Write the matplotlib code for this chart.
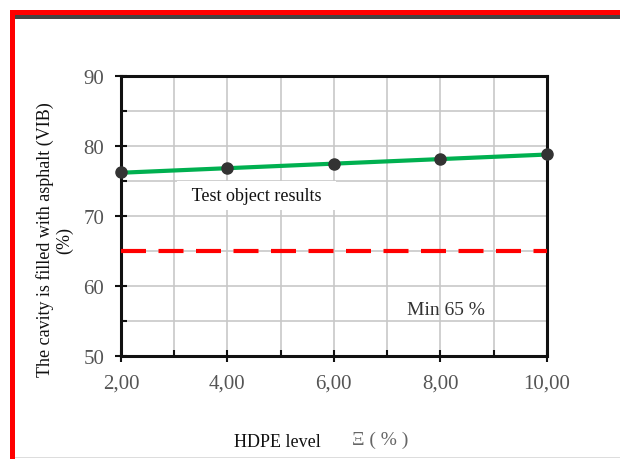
import numpy as np
import matplotlib
matplotlib.use("Agg")
import matplotlib.pyplot as plt
from matplotlib.patches import Rectangle
from matplotlib.ticker import MultipleLocator, FixedLocator

plt.rcParams['font.family'] = ['Liberation Serif', 'DejaVu Serif']

hdpe = [2, 4, 6, 8, 10]
vfb = [76.2, 76.8, 77.4, 78.1, 78.8]
min_limit = 65
x_ticks = [2, 4, 6, 8, 10]
x_labels = ["2,00", "4,00", "6,00", "8,00", "10,00"]
y_ticks = [50, 60, 70, 80, 90]

fig = plt.figure(figsize=(6.2, 4.6), dpi=100)
ax = fig.add_axes([0.195, 0.224, 0.687, 0.609])

coef = np.polyfit(hdpe, vfb, 1)
fit = np.polyval(coef, hdpe)
ax.plot(hdpe, fit, color='#00B050', lw=3, zorder=3)
ax.plot(hdpe, vfb, 'o', color='#333333', ms=8, zorder=4, clip_on=False)
ax.axhline(min_limit, color='#FF0000', lw=3, dashes=(6, 3), zorder=3)

ax.set_xlim(2, 10)
ax.set_ylim(50, 90)
ax.xaxis.set_major_locator(FixedLocator(x_ticks))
ax.set_xticklabels(x_labels)
ax.xaxis.set_minor_locator(MultipleLocator(1))
ax.yaxis.set_major_locator(FixedLocator(y_ticks))
ax.yaxis.set_minor_locator(MultipleLocator(5))
ax.grid(True, which='both', color='#c8c8c8', lw=1.2, zorder=0)
ax.tick_params(which='major', direction='inout', length=8, width=1.5, colors='#111111',
               labelcolor='#555555', labelsize=15)
ax.tick_params(which='minor', direction='in', length=4, width=1.5, colors='#111111')
ax.tick_params(axis='x', pad=9)
ax.tick_params(axis='y', pad=8)
for s in ax.spines.values():
    s.set_linewidth(2.2)
    s.set_color('#111111')

ax.text(4.55, 72.9, "  Test object results  ", fontsize=13, ha='center', va='center',
        color='#111111', zorder=5,
        bbox=dict(facecolor='white', edgecolor='none', pad=4))
ax.text(8.1, 56.6, "Min 65 %", fontsize=14, ha='center', va='center', color='#333333', zorder=5)

fig.text(0.088, 0.478, "The cavity is filled with asphalt (VIB)\n(%)", rotation=90,
         ha='center', va='center', fontsize=13, color='#111111', linespacing=1.2)
fig.text(0.447, 0.037, "HDPE level", ha='center', va='center', fontsize=13, color='#111111')
fig.text(0.613, 0.043, "Ξ ( % )", ha='center', va='center', fontsize=14, color='#666666')

# frame decorations
fig.patches.append(Rectangle((10/620, 0), 5/620, 1 - 11/460, transform=fig.transFigure,
                             facecolor='#FF0000', edgecolor='none'))
fig.patches.append(Rectangle((10/620, 1 - 16/460), 1, 5/460, transform=fig.transFigure,
                             facecolor='#FF0000', edgecolor='none'))
fig.patches.append(Rectangle((15/620, 1 - 20/460), 1, 4/460, transform=fig.transFigure,
                             facecolor='#444444', edgecolor='none'))
fig.patches.append(Rectangle((15/620, 1/460), 1, 1/460, transform=fig.transFigure,
                             facecolor='#dddddd', edgecolor='none'))

fig.savefig("out.png", dpi=100)
